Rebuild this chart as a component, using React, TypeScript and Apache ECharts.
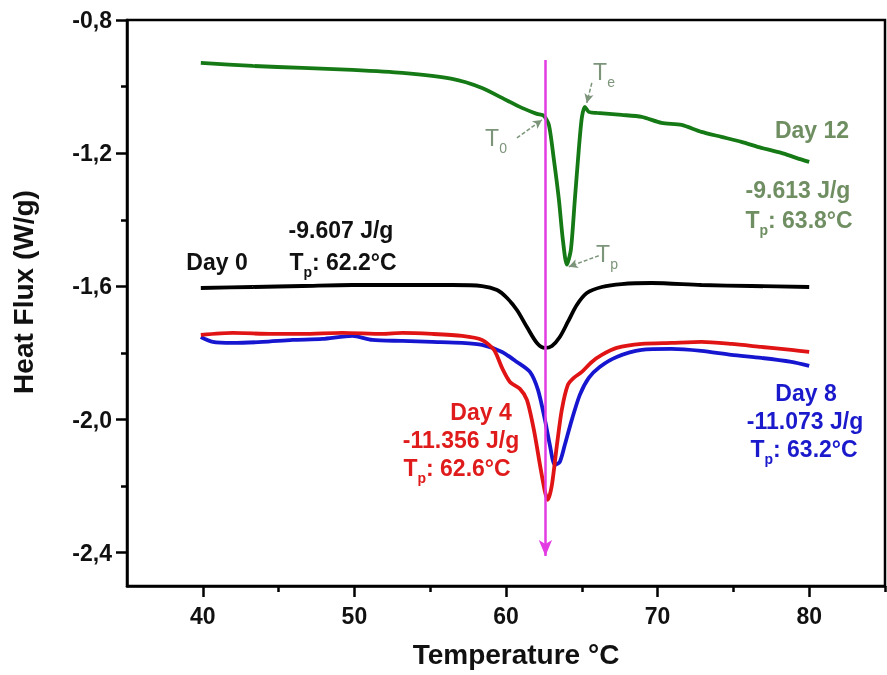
import React, { useEffect, useRef } from "react";
import * as echarts from "echarts";

// Day 12 (green)
const day12: [number, number][] = [
  [39.87, -0.929], [43.29, -0.938], [46.58, -0.944], [49.87, -0.95], [53.16, -0.959],
  [56.45, -0.977], [58.42, -1.004], [59.74, -1.034], [61.05, -1.064], [62.04, -1.082],
  [62.5, -1.088], [62.83, -1.115], [63.16, -1.22], [63.49, -1.34], [63.75, -1.46],
  [64.01, -1.535], [64.28, -1.49], [64.54, -1.34], [64.8, -1.19], [65.0, -1.094],
  [65.2, -1.061], [65.46, -1.076], [65.99, -1.079], [67.63, -1.085], [68.95, -1.091],
  [70.26, -1.109], [71.58, -1.115], [72.89, -1.136], [74.21, -1.151], [75.53, -1.166],
  [76.84, -1.184], [78.16, -1.199], [79.14, -1.214], [80.0, -1.226],
];
// Day 0 (black)
const day0: [number, number][] = [
  [39.87, -1.605], [43.29, -1.602], [46.58, -1.599], [49.87, -1.596], [53.16, -1.596],
  [56.45, -1.596], [58.42, -1.599], [59.41, -1.611], [60.07, -1.635], [60.72, -1.671],
  [61.38, -1.722], [62.04, -1.77], [62.57, -1.785], [63.03, -1.779], [63.55, -1.752],
  [64.08, -1.707], [64.67, -1.656], [65.33, -1.62], [66.32, -1.602], [67.63, -1.593],
  [69.61, -1.59], [72.89, -1.596], [76.18, -1.599], [80.0, -1.602],
];
// Day 4 (red)
const day4: [number, number][] = [
  [39.87, -1.746], [41.97, -1.74], [44.61, -1.743], [46.58, -1.743], [49.21, -1.74],
  [51.84, -1.743], [53.16, -1.74], [55.13, -1.743], [57.11, -1.749], [58.42, -1.761],
  [59.21, -1.791], [59.74, -1.845], [60.26, -1.887], [60.92, -1.908], [61.38, -1.941],
  [61.84, -2.031], [62.24, -2.136], [62.57, -2.217], [62.76, -2.241], [63.03, -2.196],
  [63.36, -2.076], [63.68, -1.971], [64.08, -1.896], [64.47, -1.875], [65.0, -1.857],
  [65.66, -1.827], [66.32, -1.806], [67.3, -1.785], [68.95, -1.773], [70.92, -1.77],
  [72.89, -1.767], [74.87, -1.773], [76.84, -1.782], [78.82, -1.791], [80.0, -1.797],
];
// Day 8 (blue)
const day8: [number, number][] = [
  [39.87, -1.752], [40.66, -1.767], [41.97, -1.77], [43.95, -1.767], [45.92, -1.761],
  [47.89, -1.758], [49.87, -1.749], [51.18, -1.761], [53.16, -1.764], [55.13, -1.767],
  [57.11, -1.77], [58.42, -1.776], [59.74, -1.797], [60.72, -1.827], [61.58, -1.857],
  [62.11, -1.911], [62.57, -2.001], [62.89, -2.076], [63.22, -2.136], [63.55, -2.127],
  [63.88, -2.076], [64.34, -2.001], [64.87, -1.926], [65.46, -1.875], [66.18, -1.842],
  [67.3, -1.812], [68.95, -1.791], [70.92, -1.788], [72.89, -1.794], [74.87, -1.806],
  [76.84, -1.815], [78.82, -1.827], [80.0, -1.839],
];

const xMajorTicks = [40, 50, 60, 70, 80];
const xMinorTicks = [45, 55, 65, 75, 85];
const yMajorTicks = [-0.8, -1.2, -1.6, -2.0, -2.4];
const yMinorTicks = [-1.0, -1.4, -1.8, -2.2];

// vertical reference arrow (temperature, from, to)
const refArrow = { t: 62.6, from: -0.92, to: -2.41 };
// annotation arrows [start, end]
const annoArrows: [[number, number], [number, number]][] = [
  [[60.72, -1.154], [62.37, -1.1]],
  [[65.66, -0.989], [65.33, -1.049]],
  [[66.12, -1.508], [64.14, -1.541]],
];

const FONT = "Liberation Sans, Arial, sans-serif";

export default function App() {
  const ref = useRef<HTMLDivElement>(null);
  useEffect(() => {
    if (!ref.current) return;
    const chart = echarts.init(ref.current, undefined, { renderer: "svg" });
    const labelStyle = { fontFamily: FONT, fontWeight: "bold" as const, fontSize: 23, color: "#111" };
    const mkText = (x: number, y: number, text: string, fill: string, rich?: boolean, weight = "bold", size = 23) => ({
      type: "text",
      x,
      y,
      silent: true,
      style: {
        text,
        fill,
        fontFamily: FONT,
        fontWeight: weight,
        fontSize: size,
        align: "center",
        verticalAlign: "middle",
        rich: rich
          ? {
              a: { fontFamily: FONT, fontWeight: weight, fontSize: size, fill },
              s: {
                fontFamily: FONT,
                fontWeight: weight,
                fontSize: Math.round(size * 0.62),
                fill,
                padding: [Math.round(size * 0.85), 0, 0, 0],
              },
            }
          : undefined,
      },
    });
    const annoColor = "#7c957a";
    chart.setOption({
      animation: false,
      grid: { left: 127, right: 2, top: 20, bottom: 89, show: true, borderColor: "#000", borderWidth: 2.5 },
      xAxis: [
        {
          type: "value",
          min: 35,
          max: 85,
          name: "Temperature °C",
          nameLocation: "middle",
          nameGap: 54,
          nameTextStyle: { fontFamily: FONT, fontWeight: "bold", fontSize: 28, color: "#111", padding: [0, 0, 0, 20] },
          axisLine: { show: true, onZero: false, lineStyle: { color: "#000", width: 2.5 } },
          axisTick: { show: true, inside: false, length: 11, customValues: xMajorTicks, lineStyle: { color: "#000", width: 2.5 } },
          axisLabel: { ...labelStyle, margin: 18, customValues: xMajorTicks },
          splitLine: { show: false },
        },
        {
          type: "value",
          min: 35,
          max: 85,
          position: "bottom",
          axisLine: { show: false, onZero: false },
          axisTick: { show: true, length: 6, customValues: xMinorTicks, lineStyle: { color: "#000", width: 2.5 } },
          axisLabel: { show: false },
          splitLine: { show: false },
        },
      ],
      yAxis: [
        {
          type: "value",
          min: -2.5,
          max: -0.8,
          name: "Heat Flux (W/g)",
          nameLocation: "middle",
          nameGap: 90,
          nameTextStyle: { fontFamily: FONT, fontWeight: "bold", fontSize: 28, color: "#111", padding: [0, 0, 0, 22] },
          axisLine: { show: true, onZero: false, lineStyle: { color: "#000", width: 2.5 } },
          axisTick: { show: true, length: 11, customValues: yMajorTicks, lineStyle: { color: "#000", width: 2.5 } },
          axisLabel: {
            ...labelStyle,
            margin: 15,
            customValues: yMajorTicks,
            formatter: (v: number) => v.toFixed(1).replace(".", ","),
          },
          splitLine: { show: false },
        },
        {
          type: "value",
          min: -2.5,
          max: -0.8,
          position: "left",
          axisLine: { show: false, onZero: false },
          axisTick: { show: true, length: 6, customValues: yMinorTicks, lineStyle: { color: "#000", width: 2.5 } },
          axisLabel: { show: false },
          splitLine: { show: false },
        },
      ],
      series: [
        {
          type: "line",
          data: day12,
          showSymbol: false,
          smooth: 0.25,
          lineStyle: { color: "#157a15", width: 3.8 },
          z: 3,
        },
        {
          type: "line",
          data: day0,
          showSymbol: false,
          smooth: 0.3,
          lineStyle: { color: "#000", width: 3.8 },
          z: 3,
        },
        {
          type: "line",
          data: day8,
          showSymbol: false,
          smooth: 0.25,
          lineStyle: { color: "#1616d0", width: 3.8 },
          z: 3,
        },
        {
          type: "line",
          data: day4,
          showSymbol: false,
          smooth: 0.25,
          lineStyle: { color: "#e01414", width: 3.8 },
          z: 4,
        },
        {
          type: "line",
          data: [],
          z: 6,
          markLine: {
            silent: true,
            symbol: ["none", "arrow"],
            symbolSize: [10, 16],
            label: { show: false },
            lineStyle: { color: "#e23ce2", width: 2.5, type: "solid" },
            data: [[{ coord: [refArrow.t, refArrow.from] }, { coord: [refArrow.t, refArrow.to] }]],
          },
        },
        {
          type: "line",
          data: [],
          z: 6,
          markLine: {
            silent: true,
            symbol: ["none", "arrow"],
            symbolSize: [7, 9],
            label: { show: false },
            lineStyle: { color: annoColor, width: 1.5, type: [4, 2] },
            data: annoArrows.map(([a, b]) => [{ coord: a }, { coord: b }]),
          },
        },
      ],
      graphic: [
        mkText(217, 262, "Day 0", "#111"),
        mkText(341, 230, "-9.607 J/g", "#111"),
        mkText(343, 262, "{a|T}{s|p}{a|: 62.2°C}", "#111", true),
        mkText(481, 412, "Day 4", "#e01b1b"),
        mkText(461, 440, "-11.356 J/g", "#e01b1b"),
        mkText(457, 468, "{a|T}{s|p}{a|: 62.6°C}", "#e01b1b", true),
        mkText(806, 393, "Day 8", "#1a1acc"),
        mkText(805, 421, "-11.073 J/g", "#1a1acc"),
        mkText(804, 449, "{a|T}{s|p}{a|: 63.2°C}", "#1a1acc", true),
        mkText(812, 130, "Day 12", "#6f8e62"),
        mkText(798, 190, "-9.613 J/g", "#6f8e62"),
        mkText(799, 220, "{a|T}{s|p}{a|: 63.8°C}", "#6f8e62", true),
        mkText(496, 138, "{a|T}{s|0}", annoColor, true, "normal", 23),
        mkText(604, 72, "{a|T}{s|e}", annoColor, true, "normal", 23),
        mkText(607, 254, "{a|T}{s|p}", annoColor, true, "normal", 23),
      ],
    });
    return () => chart.dispose();
  }, []);
  return <div ref={ref} style={{ position: "fixed", left: 0, top: 0, width: 887, height: 675 }} />;
}
